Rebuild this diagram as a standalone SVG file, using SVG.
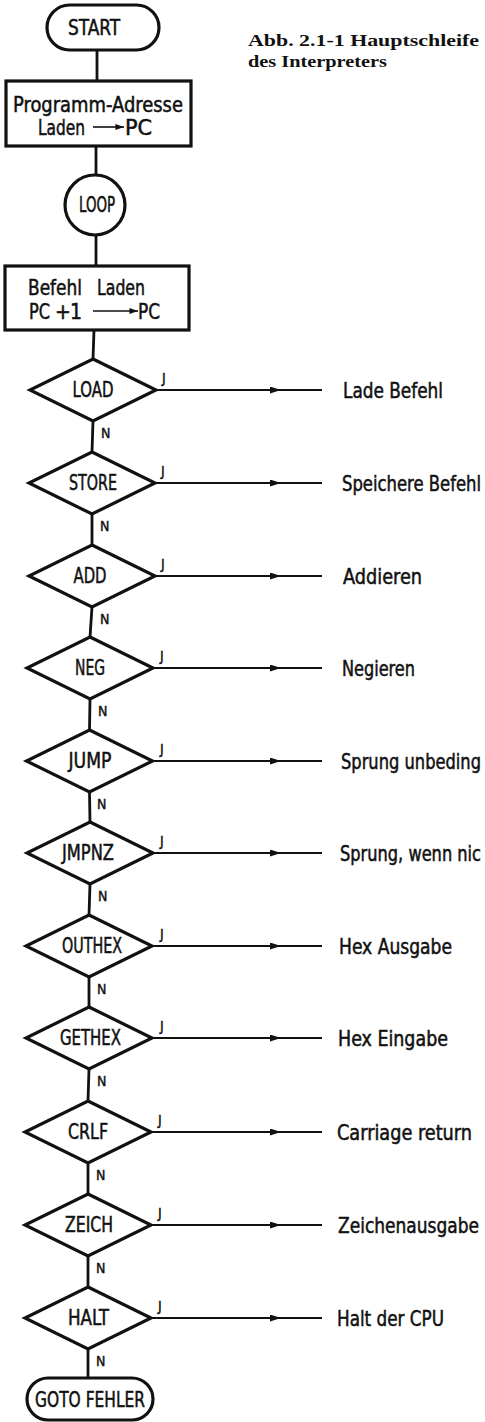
<svg xmlns="http://www.w3.org/2000/svg" width="485" height="1422" viewBox="0 0 485 1422">
<style>
.shape{fill:none;stroke:#111;stroke-width:3.2}
.conn{fill:none;stroke:#111;stroke-width:2.8}
.jl{fill:none;stroke:#111;stroke-width:2.2;marker-mid:url(#arr)}
.t{font-family:"DejaVu Sans Condensed","DejaVu Sans",sans-serif;font-size:21px;fill:#111;stroke:#111;stroke-width:0.5}
.c{text-anchor:middle}
.yn{font-family:"DejaVu Sans Condensed","DejaVu Sans",sans-serif;font-size:14px;fill:#111;stroke:#111;stroke-width:0.4}
.cap{font-family:"Liberation Serif","Times New Roman",serif;font-weight:bold;font-size:17.5px;fill:#111}
</style>
<defs>
<marker id="arr" viewBox="0 0 11 7" refX="11" refY="3.5" markerWidth="11" markerHeight="7" markerUnits="userSpaceOnUse" orient="auto"><path d="M0,0 L11,3.5 L0,7 z" fill="#111"/></marker>
<marker id="sarr" viewBox="0 0 10 7" refX="10" refY="3.5" markerWidth="10" markerHeight="6" markerUnits="userSpaceOnUse" orient="auto"><path d="M0,0 L10,3.5 L0,7 z" fill="#111"/></marker>
</defs>
<g id="caption">
<text class="cap" x="248" y="46" textLength="231" lengthAdjust="spacingAndGlyphs">Abb. 2.1-1 Hauptschleife</text>
<text class="cap" x="248" y="67" textLength="139" lengthAdjust="spacingAndGlyphs">des Interpreters</text>
</g>
<g id="connectors">
<line class="conn" x1="97" y1="50" x2="97" y2="81"/>
<line class="conn" x1="96" y1="146" x2="96" y2="175"/>
<line class="conn" x1="96" y1="235" x2="96" y2="266"/>
<line class="conn" x1="94" y1="330" x2="93" y2="359"/>
<line class="conn" x1="93" y1="421" x2="92" y2="452"/>
<line class="conn" x1="92" y1="514" x2="92" y2="545"/>
<line class="conn" x1="92" y1="607" x2="90" y2="637"/>
<line class="conn" x1="90" y1="699" x2="89.5" y2="730"/>
<line class="conn" x1="89.5" y1="792" x2="90" y2="822"/>
<line class="conn" x1="90" y1="884" x2="89" y2="915"/>
<line class="conn" x1="89" y1="977" x2="89" y2="1007"/>
<line class="conn" x1="89" y1="1069" x2="88" y2="1101"/>
<line class="conn" x1="88" y1="1163" x2="88" y2="1194"/>
<line class="conn" x1="88" y1="1256" x2="88" y2="1287"/>
<line class="conn" x1="88" y1="1349" x2="88" y2="1378"/>
<polyline class="jl" points="156,390 281,390 322,390"/>
<polyline class="jl" points="155,483 281,483 322,483"/>
<polyline class="jl" points="155,576 281,576 322,576"/>
<polyline class="jl" points="153,668 281,668 322,668"/>
<polyline class="jl" points="152.5,761 281,761 322,761"/>
<polyline class="jl" points="153,853 281,853 322,853"/>
<polyline class="jl" points="152,946 281,946 322,946"/>
<polyline class="jl" points="152,1038 281,1038 322,1038"/>
<polyline class="jl" points="151,1132 281,1132 322,1132"/>
<polyline class="jl" points="151,1225 281,1225 322,1225"/>
<polyline class="jl" points="151,1318 281,1318 322,1318"/>
<text class="yn" x="162" y="383">J</text>
<text class="yn" x="161" y="476">J</text>
<text class="yn" x="161" y="569">J</text>
<text class="yn" x="160" y="661">J</text>
<text class="yn" x="160" y="754">J</text>
<text class="yn" x="160" y="846">J</text>
<text class="yn" x="160" y="939">J</text>
<text class="yn" x="160" y="1031">J</text>
<text class="yn" x="158" y="1125">J</text>
<text class="yn" x="158" y="1218">J</text>
<text class="yn" x="158" y="1311">J</text>
<text class="yn" x="101" y="438">N</text>
<text class="yn" x="100" y="531">N</text>
<text class="yn" x="100" y="624">N</text>
<text class="yn" x="98" y="716">N</text>
<text class="yn" x="97" y="809">N</text>
<text class="yn" x="98" y="901">N</text>
<text class="yn" x="97" y="994">N</text>
<text class="yn" x="97" y="1086">N</text>
<text class="yn" x="96" y="1180">N</text>
<text class="yn" x="96" y="1273">N</text>
<text class="yn" x="96" y="1366">N</text>
</g>
<g id="start">
<rect class="shape" x="47" y="5" width="112" height="45" rx="22.5"/>
<text class="t c" x="94" y="35" font-size="23" textLength="52" lengthAdjust="spacingAndGlyphs">START</text>
</g>
<g id="prog-adresse">
<rect class="shape" x="6" y="81" width="185" height="65"/>
<text class="t" x="13" y="112" font-size="22" textLength="170" lengthAdjust="spacingAndGlyphs">Programm-Adresse</text>
<text class="t" x="38" y="135" font-size="22" textLength="47" lengthAdjust="spacingAndGlyphs">Laden</text>
<line x1="93" y1="127" x2="124" y2="127" stroke="#111" stroke-width="1.6" marker-end="url(#sarr)"/>
<text class="t" x="125" y="135" font-size="22" textLength="27" lengthAdjust="spacingAndGlyphs">PC</text>
</g>
<g id="loop">
<circle class="shape" cx="95" cy="205" r="30"/>
<text class="t c" x="97" y="212" textLength="36" lengthAdjust="spacingAndGlyphs">LOOP</text>
</g>
<g id="befehl-laden">
<rect class="shape" x="5" y="266" width="184" height="64"/>
<text class="t" y="295" font-size="22"><tspan x="28" textLength="54" lengthAdjust="spacingAndGlyphs">Befehl</tspan> <tspan x="97" textLength="48" lengthAdjust="spacingAndGlyphs">Laden</tspan></text>
<text class="t" y="319" font-size="22"><tspan x="29" textLength="21" lengthAdjust="spacingAndGlyphs">PC</tspan> <tspan x="55">+</tspan> <tspan x="70">1</tspan></text>
<line x1="93" y1="311" x2="138" y2="311" stroke="#111" stroke-width="1.6" marker-end="url(#sarr)"/>
<text class="t" x="138" y="319" font-size="22" textLength="22" lengthAdjust="spacingAndGlyphs">PC</text>
</g>
<g id="load">
<polygon class="shape" points="93,359 156,390 93,421 30,390"/>
<text class="t c" x="93" y="397" textLength="41" lengthAdjust="spacingAndGlyphs">LOAD</text>
<text class="t" x="343" y="398" textLength="100" lengthAdjust="spacingAndGlyphs">Lade Befehl</text>
</g>
<g id="store">
<polygon class="shape" points="92,452 155,483 92,514 29,483"/>
<text class="t c" x="93" y="490" textLength="48" lengthAdjust="spacingAndGlyphs">STORE</text>
<text class="t" x="342" y="491" textLength="139" lengthAdjust="spacingAndGlyphs">Speichere Befehl</text>
</g>
<g id="add">
<polygon class="shape" points="92,545 155,576 92,607 29,576"/>
<text class="t c" x="90" y="583" textLength="33" lengthAdjust="spacingAndGlyphs">ADD</text>
<text class="t" x="343" y="584" textLength="79" lengthAdjust="spacingAndGlyphs">Addieren</text>
</g>
<g id="neg">
<polygon class="shape" points="90,637 153,668 90,699 27,668"/>
<text class="t c" x="90" y="675" textLength="30" lengthAdjust="spacingAndGlyphs">NEG</text>
<text class="t" x="342" y="676" textLength="73" lengthAdjust="spacingAndGlyphs">Negieren</text>
</g>
<g id="jump">
<polygon class="shape" points="89.5,730 152.5,761 89.5,792 26.5,761"/>
<text class="t c" x="90" y="768" textLength="43" lengthAdjust="spacingAndGlyphs">JUMP</text>
<text class="t" x="341" y="769" textLength="140" lengthAdjust="spacingAndGlyphs">Sprung unbeding</text>
</g>
<g id="jmpnz">
<polygon class="shape" points="90,822 153,853 90,884 27,853"/>
<text class="t c" x="88" y="860" textLength="52" lengthAdjust="spacingAndGlyphs">JMPNZ</text>
<text class="t" x="340" y="861" textLength="141" lengthAdjust="spacingAndGlyphs">Sprung, wenn nic</text>
</g>
<g id="outhex">
<polygon class="shape" points="89,915 152,946 89,977 26,946"/>
<text class="t c" x="92" y="953" textLength="60" lengthAdjust="spacingAndGlyphs">OUTHEX</text>
<text class="t" x="339" y="954" textLength="113" lengthAdjust="spacingAndGlyphs">Hex Ausgabe</text>
</g>
<g id="gethex">
<polygon class="shape" points="89,1007 152,1038 89,1069 26,1038"/>
<text class="t c" x="90.5" y="1045" textLength="61" lengthAdjust="spacingAndGlyphs">GETHEX</text>
<text class="t" x="338" y="1046" textLength="110" lengthAdjust="spacingAndGlyphs">Hex Eingabe</text>
</g>
<g id="crlf">
<polygon class="shape" points="88,1101 151,1132 88,1163 25,1132"/>
<text class="t c" x="88" y="1139" textLength="40" lengthAdjust="spacingAndGlyphs">CRLF</text>
<text class="t" x="337" y="1140" textLength="135" lengthAdjust="spacingAndGlyphs">Carriage return</text>
</g>
<g id="zeich">
<polygon class="shape" points="88,1194 151,1225 88,1256 25,1225"/>
<text class="t c" x="89" y="1232" textLength="48" lengthAdjust="spacingAndGlyphs">ZEICH</text>
<text class="t" x="338" y="1233" textLength="141" lengthAdjust="spacingAndGlyphs">Zeichenausgabe</text>
</g>
<g id="halt">
<polygon class="shape" points="88,1287 151,1318 88,1349 25,1318"/>
<text class="t c" x="88.5" y="1325" textLength="41" lengthAdjust="spacingAndGlyphs">HALT</text>
<text class="t" x="337" y="1326" textLength="107" lengthAdjust="spacingAndGlyphs">Halt der CPU</text>
</g>
<g id="goto-fehler">
<rect class="shape" x="27" y="1378" width="126" height="42" rx="21"/>
<text class="t c" x="90" y="1407" font-size="22" textLength="110" lengthAdjust="spacingAndGlyphs">GOTO FEHLER</text>
</g>
</svg>
